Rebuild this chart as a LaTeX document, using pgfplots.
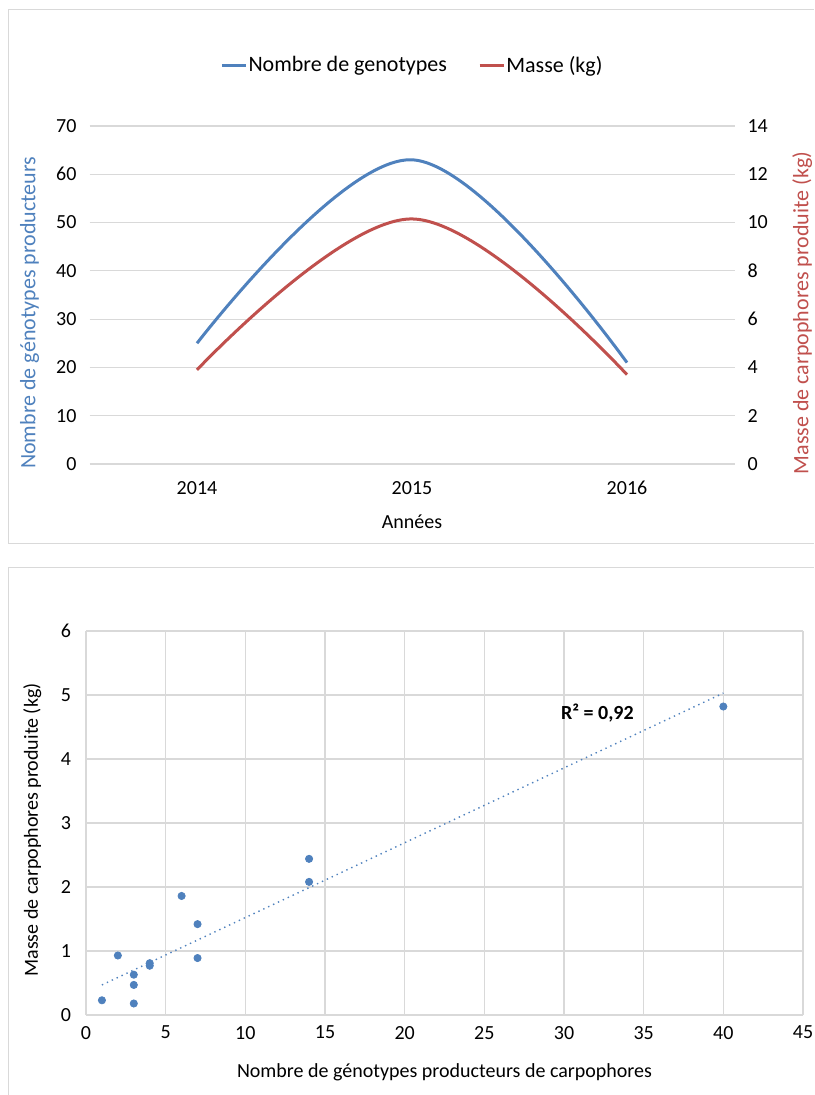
\documentclass[border=0pt]{standalone}
\usepackage{pgfplots}
\pgfplotsset{compat=1.18}
\usepackage{fontspec}
\setmainfont{Carlito}
\definecolor{xlblue}{HTML}{4F81BD}
\definecolor{xlred}{HTML}{C0504D}
\definecolor{xlgrid}{HTML}{D9D9D9}
\begin{document}
\begin{tikzpicture}
% canvas: 1 px of the reference = 0.5pt
\useasboundingbox (0pt,0pt) rectangle (407pt,-547.5pt);
\draw[xlgrid,line width=0.5pt] (4pt,-271.5pt) -- (4pt,-5pt) -- (407pt,-5pt);
\draw[xlgrid,line width=0.5pt] (4pt,-271.5pt) -- (407pt,-271.5pt);
\draw[xlgrid,line width=0.5pt] (4pt,-547.5pt) -- (4pt,-283.5pt) -- (407pt,-283.5pt);
\pgfplotsset{
  xlstyle/.style={
    scale only axis,
    tick style={draw=none},
    tick label style={font=\fontsize{10}{12}\selectfont},
    /pgf/number format/assume math mode=true,
    label style={font=\fontsize{10}{12}\selectfont},
    grid style={xlgrid,line width=0.6pt},
  }
}
% ---- top chart, left axis
\begin{axis}[xlstyle,
  at={(44.75pt,-232pt)}, anchor=south west,
  width=322.5pt, height=169pt,
  xmin=-0.5, xmax=2.5, ymin=0, ymax=70,
  xtick={0,1,2}, xticklabels={2014,2015,2016},
  ytick={0,10,...,70}, ymajorgrids,
  axis x line*=bottom, axis y line*=left,
  axis line style={draw=none},
  xticklabel style={yshift=-5pt},
  yticklabel style={xshift=-3pt},
  xlabel={Années},
  every axis x label/.style={at={(rel axis cs:0.5,-0.172)},anchor=center,
    font=\fontsize{10}{12}\selectfont},
  ylabel={Nombre de génotypes producteurs},
  every axis y label/.style={at={(rel axis cs:-0.093,0.447)},anchor=center,rotate=90,
    text=xlblue,font=\fontsize{11}{13}\selectfont},
]
\addplot[xlblue, line width=1.5pt, smooth, tension=0.6] coordinates {(0,25) (1,63) (2,21)};
\end{axis}
% ---- top chart, right axis
\begin{axis}[xlstyle,
  at={(44.75pt,-232pt)}, anchor=south west,
  width=322.5pt, height=169pt,
  xmin=-0.5, xmax=2.5, ymin=0, ymax=14,
  xtick=\empty,
  ytick={0,2,...,14},
  axis x line=none, axis y line*=right,
  axis line style={draw=none},
  yticklabel style={xshift=3pt},
  ylabel={Masse de carpophores produite (kg)},
  every axis y label/.style={at={(rel axis cs:1.105,0.447)},anchor=center,rotate=90,
    text=xlred,font=\fontsize{11}{13}\selectfont},
  legend style={at={(rel axis cs:0.5,1.178)}, anchor=center, draw=none,
    font=\fontsize{11}{13}\selectfont, legend columns=2,
    nodes={inner xsep=0.6pt},
    /tikz/every even column/.append style={column sep=15pt}},
  legend image code/.code={\draw[#1,line width=1.5pt] (0pt,0pt) -- (12pt,0pt);},
]
\addlegendimage{xlblue}
\addlegendentry{Nombre de genotypes}
\addplot[xlred, line width=1.5pt, smooth, tension=0.6] coordinates {(0,3.9) (1,10.15) (2,3.7)};
\addlegendentry{Masse (kg)}
\end{axis}
% ---- bottom chart
\begin{axis}[xlstyle,
  at={(43pt,-507.5pt)}, anchor=south west,
  width=358.5pt, height=192pt,
  xmin=0, xmax=45, ymin=0, ymax=6,
  xtick={0,5,...,45}, ytick={0,1,...,6},
  grid=major,
  axis x line*=bottom, axis y line*=left,
  axis line style={xlgrid,line width=0.8pt,-},
  xticklabel style={yshift=-2pt},
  yticklabel style={xshift=-4pt},
  xlabel={Nombre de génotypes producteurs de carpophores},
  every axis x label/.style={at={(rel axis cs:0.5,-0.148)},anchor=center,
    font=\fontsize{10}{12}\selectfont},
  ylabel={Masse de carpophores produite (kg)},
  every axis y label/.style={at={(rel axis cs:-0.075,0.482)},anchor=center,rotate=90,
    font=\fontsize{10}{12}\selectfont},
]
\addplot[only marks, mark=*, mark size=1.8pt, xlblue, mark options={draw=xlblue,fill=xlblue}]
coordinates {
(1,0.23) (2,0.93) (3,0.63) (3,0.47) (3,0.18) (4,0.81) (4,0.77)
(6,1.86) (7,1.42) (7,0.89) (14,2.08) (14,2.44) (40,4.82)
};
\addplot[xlblue, line width=0.7pt, dotted, no marks] coordinates {(1,0.47) (40,5.03)};
\node[font=\bfseries\fontsize{10}{12}\selectfont] at (axis cs:32.1,4.72) {R² = 0,92};
\end{axis}
\end{tikzpicture}
\end{document}
